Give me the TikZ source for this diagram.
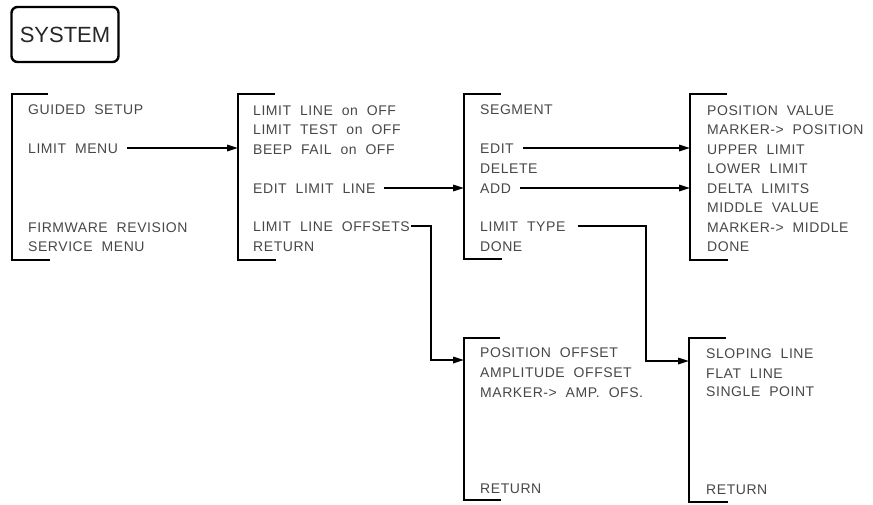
\documentclass[tikz,border=0pt]{standalone}
\usepackage{fontspec}
\setmainfont{Liberation Sans}
\newfontfamily\itemfont{Liberation Sans}[LetterSpace=4]
\usetikzlibrary{arrows.meta}
\begin{document}
\begin{tikzpicture}[x=1pt,y=-1pt,
  item/.style={anchor=west, inner sep=0pt, text=black!72, font=\itemfont\fontsize{14}{16}\selectfont, text height=10pt, text depth=0pt},
  bracket/.style={line width=2.6pt, line cap=butt},
  link/.style={line width=1.6pt, -{Triangle[length=11pt,width=6.5pt]}},
  keybox/.style={draw, rounded corners=6pt, line width=2.4pt, minimum width=107pt, minimum height=55pt, inner sep=0pt, text=black!85, font=\fontsize{22}{26}\selectfont}]
\useasboundingbox (0,0) rectangle (873,504);

% hard key
\node[keybox] (sys) at (65,34.5) {SYSTEM};

% brackets
\coordinate (m1bar) at (12,94);
\coordinate (m2bar) at (238,94);
\coordinate (m3bar) at (464,94);
\coordinate (m4bar) at (690,94);
\coordinate (m5bar) at (464,338);
\coordinate (m6bar) at (689,338);
\draw[bracket] (48,94) -- (12,94) -- (12,260) -- (50,260);
\draw[bracket] (275,94) -- (238,94) -- (238,260) -- (276,260);
\draw[bracket] (501,94) -- (464,94) -- (464,259) -- (502,259);
\draw[bracket] (727,94) -- (690,94) -- (690,260) -- (728,260);
\draw[bracket] (500,338) -- (464,338) -- (464,500) -- (501,500);
\draw[bracket] (726,338) -- (689,338) -- (689,502) -- (728,502);

% menu 1
\node[item] (gs)  at (28,109) {GUIDED~~SETUP};
\node[item] (lm)  at (28,148) {LIMIT~~MENU};
\node[item] (fr)  at (28,227) {FIRMWARE~~REVISION};
\node[item] (sm)  at (28,246) {SERVICE~~MENU};

% menu 2
\node[item] (llo) at (253,110) {LIMIT~~LINE~~on~~OFF};
\node[item] (lto) at (253,129) {LIMIT~~TEST~~on~~OFF};
\node[item] (bfo) at (253,149) {BEEP~~FAIL~~on~~OFF};
\node[item] (ell) at (253,188) {EDIT~~LIMIT~~LINE};
\node[item] (lof) at (253,226) {LIMIT~~LINE~~OFFSETS};
\node[item] (ret2) at (253,246) {RETURN};

% menu 3
\node[item] (seg) at (480,109) {SEGMENT};
\node[item] (edt) at (480,148) {EDIT};
\node[item] (del) at (480,168) {DELETE};
\node[item] (add) at (480,188) {ADD};
\node[item] (lty) at (480,226) {LIMIT~~TYPE};
\node[item] (dn3) at (480,246) {DONE};

% menu 4
\node[item] (pv)  at (707,110) {POSITION~~VALUE};
\node[item] (mp)  at (707,129) {MARKER-{}>~~POSITION};
\node[item] (ul)  at (707,149) {UPPER~~LIMIT};
\node[item] (ll)  at (707,168) {LOWER~~LIMIT};
\node[item] (dl)  at (707,188) {DELTA~~LIMITS};
\node[item] (mv)  at (707,207) {MIDDLE~~VALUE};
\node[item] (mm)  at (707,227) {MARKER-{}>~~MIDDLE};
\node[item] (dn4) at (707,246) {DONE};

% menu 5
\node[item] (po)  at (480,352) {POSITION~~OFFSET};
\node[item] (ao)  at (480,372) {AMPLITUDE~~OFFSET};
\node[item] (mao) at (480,392) {MARKER-{}>~~AMP.~~OFS.};
\node[item] (ret5) at (480,488) {RETURN};

% menu 6
\node[item] (sl)  at (706,353) {SLOPING~~LINE};
\node[item] (fl)  at (706,373) {FLAT~~LINE};
\node[item] (sp)  at (706,391) {SINGLE~~POINT};
\node[item] (ret6) at (706,489) {RETURN};

% connectors
\coordinate (t5) at (431,360);
\coordinate (t6) at (646,361);
\draw[link, shorten <=9pt] (lm.east) -- (lm.east -| m2bar);
\draw[link, shorten <=8pt] (ell.east) -- (ell.east -| m3bar);
\draw[link, shorten <=9pt] (edt.east) -- (edt.east -| m4bar);
\draw[link, shorten <=9pt] (add.east) -- (add.east -| m4bar);
\draw[link, shorten <=1pt] (lof.east) -| (t5) -- (t5 -| m5bar);
\draw[link, shorten <=12pt] (lty.east) -| (t6) -- (t6 -| m6bar);
\end{tikzpicture}
\end{document}
